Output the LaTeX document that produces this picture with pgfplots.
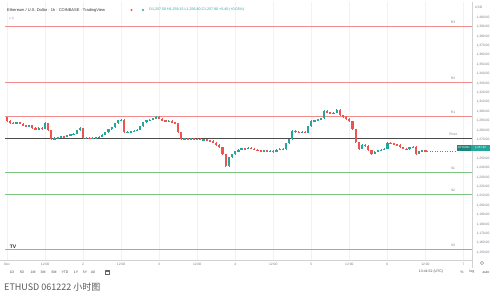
\documentclass[border=0pt]{standalone}
\usepackage{fontspec}
\setmainfont{Liberation Sans}
\newfontfamily\cjk{Noto Sans CJK SC}
\usepackage{pgfplots}
\usepackage{pgfplotstable}
\pgfplotsset{compat=1.18}
\definecolor{tvgreen}{HTML}{26A69A}
\definecolor{tvred}{HTML}{EF5350}
\definecolor{rline}{HTML}{F28B8B}
\definecolor{sline}{HTML}{7CC47F}
\definecolor{gridc}{HTML}{F0F2F6}
\definecolor{txt}{HTML}{787B86}

\pgfplotstableread{
x o h l c
0 1293.6 1294.2 1288.8 1289.4
1 1289.4 1290.3 1287.0 1287.8
2 1287.8 1288.6 1286.4 1287.2
3 1287.2 1289.0 1286.5 1288.3
4 1288.3 1288.9 1286.0 1286.7
5 1286.7 1287.4 1284.3 1285.1
6 1285.1 1285.9 1283.2 1284.1
7 1284.1 1285.8 1283.4 1285.1
8 1285.1 1285.6 1281.7 1282.5
9 1282.5 1283.3 1280.1 1280.9
10 1280.9 1283.4 1280.3 1282.5
11 1282.5 1283.1 1280.6 1281.4
12 1281.4 1288.3 1280.8 1287.2
13 1287.2 1287.9 1279.0 1279.8
14 1279.8 1280.5 1269.1 1270.2
15 1270.2 1272.6 1269.6 1271.8
16 1271.8 1273.1 1271.0 1272.4
17 1272.4 1274.1 1271.7 1273.4
18 1273.4 1274.0 1272.1 1272.9
19 1272.9 1275.2 1272.2 1274.5
20 1274.5 1276.3 1273.8 1275.5
21 1275.5 1276.9 1274.9 1276.1
22 1276.1 1280.6 1275.5 1279.8
23 1279.8 1282.8 1279.1 1281.9
24 1281.9 1282.6 1270.6 1271.3
25 1271.3 1272.6 1270.5 1271.8
26 1271.8 1272.5 1270.6 1271.3
27 1271.3 1272.4 1270.7 1271.8
28 1271.8 1273.0 1271.1 1272.4
29 1272.4 1273.6 1271.8 1272.9
30 1272.9 1275.7 1272.3 1275.0
31 1275.0 1278.4 1274.4 1277.7
32 1277.7 1281.6 1277.0 1280.9
33 1280.9 1283.8 1280.2 1283.0
34 1283.0 1288.0 1282.4 1287.2
35 1287.2 1291.2 1286.6 1290.4
36 1290.4 1291.9 1289.6 1291.0
37 1291.0 1291.6 1276.8 1277.7
38 1277.7 1279.0 1277.0 1278.2
39 1278.2 1279.5 1277.6 1278.7
40 1278.7 1280.0 1278.0 1279.3
41 1279.3 1281.0 1278.7 1280.3
42 1280.3 1284.8 1279.7 1284.1
43 1284.1 1289.1 1283.4 1288.3
44 1288.3 1291.2 1287.7 1290.4
45 1290.4 1291.8 1289.8 1291.0
46 1291.0 1293.4 1290.3 1292.6
47 1292.6 1295.2 1292.0 1294.2
48 1294.2 1294.8 1291.3 1292.0
49 1292.0 1292.6 1289.7 1290.4
50 1290.4 1291.1 1288.7 1289.4
51 1289.4 1290.6 1288.8 1289.9
52 1289.9 1290.5 1287.6 1288.3
53 1288.3 1289.0 1286.5 1287.2
54 1287.2 1287.8 1276.9 1277.7
55 1277.7 1278.4 1269.3 1270.2
56 1270.2 1272.0 1269.5 1271.3
57 1271.3 1271.9 1270.0 1270.8
58 1270.8 1272.0 1270.1 1271.3
59 1271.3 1271.9 1269.5 1270.2
60 1270.2 1271.5 1269.6 1270.8
61 1270.8 1271.4 1269.0 1269.7
62 1269.7 1270.9 1269.1 1270.2
63 1270.2 1270.8 1268.4 1269.2
64 1269.2 1269.9 1267.9 1268.6
65 1268.6 1269.2 1265.8 1266.5
66 1266.5 1267.1 1263.6 1264.4
67 1264.4 1265.0 1260.9 1261.7
68 1261.7 1262.3 1253.4 1254.3
69 1254.3 1254.9 1240.4 1242.0
70 1242.0 1251.9 1240.8 1251.1
71 1251.1 1255.0 1250.4 1254.3
72 1254.3 1258.2 1253.6 1257.5
73 1257.5 1259.8 1256.8 1259.1
74 1259.1 1261.4 1258.5 1260.7
75 1260.7 1261.4 1259.4 1260.1
76 1260.1 1261.9 1259.5 1261.2
77 1261.2 1261.8 1259.4 1260.1
78 1260.1 1260.8 1258.4 1259.1
79 1259.1 1259.8 1257.8 1258.5
80 1258.5 1259.2 1257.3 1258.0
81 1258.0 1259.2 1257.3 1258.5
82 1258.5 1259.1 1256.7 1257.5
83 1257.5 1258.7 1256.8 1258.0
84 1258.0 1258.6 1256.1 1256.9
85 1256.9 1259.8 1256.3 1259.1
86 1259.1 1260.9 1258.4 1260.1
87 1260.1 1260.8 1258.9 1259.6
88 1259.6 1266.8 1259.0 1266.0
89 1266.0 1271.0 1265.4 1270.2
90 1270.2 1280.1 1269.6 1279.3
91 1279.3 1280.0 1277.4 1278.2
92 1278.2 1278.9 1276.9 1277.7
93 1277.7 1278.9 1277.0 1278.2
94 1278.2 1278.8 1276.4 1277.1
95 1277.1 1284.8 1276.5 1284.1
96 1284.1 1290.6 1283.4 1289.9
97 1289.9 1291.2 1289.2 1290.4
98 1290.4 1292.3 1289.7 1291.5
99 1291.5 1293.3 1290.8 1292.6
100 1292.6 1301.3 1292.0 1300.5
101 1300.5 1301.1 1298.1 1298.9
102 1298.9 1299.6 1297.1 1297.9
103 1297.9 1299.2 1297.2 1298.4
104 1298.4 1302.7 1297.8 1301.6
105 1301.6 1302.2 1295.0 1295.8
106 1295.8 1296.5 1293.4 1294.2
107 1294.2 1294.8 1291.2 1292.0
108 1292.0 1292.7 1288.6 1289.4
109 1289.4 1290.0 1280.0 1280.9
110 1280.9 1281.5 1266.1 1267.0
111 1267.0 1267.6 1259.2 1260.1
112 1260.1 1265.1 1259.5 1264.4
113 1264.4 1265.0 1262.5 1263.3
114 1263.3 1263.9 1257.6 1258.5
115 1258.5 1259.1 1253.9 1254.8
116 1254.8 1257.6 1254.1 1256.9
117 1256.9 1259.2 1256.2 1258.5
118 1258.5 1259.8 1257.9 1259.1
119 1259.1 1260.9 1258.4 1260.1
120 1260.1 1267.3 1259.5 1266.5
121 1266.5 1267.2 1265.2 1266.0
122 1266.0 1266.6 1264.2 1264.9
123 1264.9 1265.6 1263.6 1264.4
124 1264.4 1265.0 1260.9 1261.7
125 1261.7 1262.3 1259.4 1260.1
126 1260.1 1260.8 1258.8 1259.6
127 1259.6 1262.4 1258.9 1261.7
128 1261.7 1263.0 1261.0 1262.2
129 1262.2 1262.8 1253.2 1254.8
130 1254.8 1258.2 1254.1 1257.5
131 1257.5 1259.2 1256.8 1258.5
132 1258.5 1259.1 1257.3 1257.9
}\candles

\begin{document}
\begin{tikzpicture}[x=1pt,y=1pt]
\path[use as bounding box] (0,0) rectangle (500,296);
\fill[white] (0,0) rectangle (500,296);
\begin{axis}[at={(0,38)}, anchor=south west,
  width=472pt, height=258pt, scale only axis,
  xmin=-2.21, xmax=146.69, ymin=1141.5, ymax=1416,
  axis x line*=bottom, axis y line*=right,
  axis line style={draw=gray!35, line width=0.5pt},
  major tick length=0pt,
  xtick={0,12,...,144},
  xticklabels={Dec,12:00,2,12:00,3,12:00,4,12:00,5,12:00,6,12:00,7},
  xticklabel style={font=\fontsize{3.3}{4}\selectfont, text=txt, yshift=0.5pt},
  ytick={1150,1160,...,1250,1270,1280,...,1400},
  yticklabel pos=right,
  yticklabel style={font=\fontsize{3.3}{4}\selectfont, text=txt, xshift=1pt,
     /pgf/number format/.cd, fixed, fixed zerofill, precision=2, 1000 sep={,}, assume math mode=true},
  xmajorgrids=true, ymajorgrids=false, grid style={draw=gridc, line width=0.4pt},
  clip=true,
]
% pivot levels
\addplot[rline, line width=0.75pt] coordinates {(-0.63,1390.4) (146.69,1390.4)};
\addplot[rline, line width=0.75pt] coordinates {(-0.63,1330.9) (146.69,1330.9)};
\addplot[rline, line width=0.75pt] coordinates {(-0.63,1294.7) (146.69,1294.7)};
\addplot[black!70, line width=0.75pt] coordinates {(-0.63,1271.3) (146.69,1271.3)};
\addplot[sline, line width=0.75pt] coordinates {(-0.63,1235.1) (146.69,1235.1)};
\addplot[sline, line width=0.75pt] coordinates {(-0.63,1211.7) (146.69,1211.7)};
\addplot[sline, line width=0.75pt] coordinates {(-0.63,1153.2) (146.69,1153.2)};
% last price dotted
\addplot[tvgreen, dotted, line width=0.5pt] coordinates {(132.6,1257.9) (142,1257.9)};
% wicks
\addplot[draw=none, mark=none, restrict expr to domain={\thisrow{c}-\thisrow{o}}{0:1000},
  error bars/.cd, y dir=both, y explicit, error mark=none,
  error bar style={draw=tvgreen, line width=0.5pt}]
  table[x=x, y expr={(\thisrow{h}+\thisrow{l})/2}, y error expr={(\thisrow{h}-\thisrow{l})/2}] {\candles};
\addplot[draw=none, mark=none, restrict expr to domain={\thisrow{c}-\thisrow{o}}{-1000:-0.001},
  error bars/.cd, y dir=both, y explicit, error mark=none,
  error bar style={draw=tvred, line width=0.5pt}]
  table[x=x, y expr={(\thisrow{h}+\thisrow{l})/2}, y error expr={(\thisrow{h}-\thisrow{l})/2}] {\candles};
% bodies
\addplot[draw=none, mark=none, restrict expr to domain={\thisrow{c}-\thisrow{o}}{0:1000},
  error bars/.cd, y dir=both, y explicit, error mark=none,
  error bar style={draw=tvgreen, line width=2.2pt}]
  table[x=x, y expr={(\thisrow{o}+\thisrow{c})/2}, y error expr={max(abs(\thisrow{c}-\thisrow{o})/2,0.3)}] {\candles};
\addplot[draw=none, mark=none, restrict expr to domain={\thisrow{c}-\thisrow{o}}{-1000:-0.001},
  error bars/.cd, y dir=both, y explicit, error mark=none,
  error bar style={draw=tvred, line width=2.2pt}]
  table[x=x, y expr={(\thisrow{o}+\thisrow{c})/2}, y error expr={max(abs(\thisrow{c}-\thisrow{o})/2,0.3)}] {\candles};
% level labels
\foreach \lv/\nm in {1390.4/R3,1330.9/R2,1294.7/R1,1271.3/Pivot,1235.1/S1,1211.7/S2,1153.2/S3}{
  \edef\tmp{\noexpand\node[font=\noexpand\fontsize{3.3}{4}\noexpand\selectfont, text=txt, anchor=south, inner sep=0pt] at (axis cs:140.7,\lv) [yshift=2.5pt] {\nm};}\tmp
}
\end{axis}
% header
\node[anchor=west, inner sep=0pt, font=\fontsize{4}{5}\selectfont, text=black!80] at (7,286) {Ethereum / U.S. Dollar · 1h · COINBASE · TradingView};
\fill[tvred] (131.5,286) circle (1.2);
\fill[tvgreen] (143,286) circle (1.2);
\node[anchor=west, inner sep=0pt, font=\fontsize{3.6}{4}\selectfont, text=tvgreen] at (149,286) {O1,257.50 H1,259.15 L1,256.80 C1,257.90 +0.40 (+0.03\%)};
\node[anchor=west, inner sep=0pt, font=\fontsize{3.3}{4}\selectfont, text=txt] at (9,278) {= 1};
% USD label
\node[anchor=west, inner sep=0pt, font=\fontsize{3.3}{4}\selectfont, text=txt] at (475,289) {USD};
% price tag
\fill[tvgreen!80!black] (457,145) rectangle (471,151);
\fill[tvgreen] (471,145) rectangle (490,151);
\node[inner sep=0pt, font=\fontsize{2.8}{3}\selectfont, text=white] at (464,148) {ETHUSD};
\node[inner sep=0pt, font=\fontsize{2.8}{3}\selectfont, text=white] at (480.5,148) {1,257.90};
% TV logo
\node[inner sep=0pt, font=\bfseries\fontsize{5}{5}\selectfont, text=black!85] at (13,49) {TV};
% bottom divider and gear
\draw[gray!35, line width=0.5pt] (472,38) -- (472,28);
\draw[txt, line width=0.4pt] (482,33) circle (1.6);
% toolbar
\foreach \xx/\tt in {12/1D,22/5D,33/1M,43/3M,54/6M,65/YTD,76/1Y,85/5Y,93/All}{
  \node[inner sep=0pt, font=\fontsize{3.5}{4}\selectfont, text=black!70] at (\xx,24) {\tt};
}
\draw[black!60, line width=0.3pt] (105.5,22.2) rectangle (109,25.5);
\draw[black!60, line width=0.3pt] (105.5,24.6) -- (109,24.6);
\node[inner sep=0pt, font=\fontsize{3.5}{4}\selectfont, text=black!70] at (431,24) {13:41:52 (UTC)};
\node[inner sep=0pt, font=\fontsize{3.5}{4}\selectfont, text=black!70] at (462,24) {\%};
\node[inner sep=0pt, font=\fontsize{3.5}{4}\selectfont, text=black!70] at (472,24) {log};
\node[inner sep=0pt, font=\fontsize{3.5}{4}\selectfont, text=black!70] at (486,24) {auto};
% caption
\node[anchor=west, inner sep=0pt, font=\cjk\fontsize{9}{10}\selectfont, text=black!65] at (4,9) {ETHUSD 061222 小时图};
\end{tikzpicture}
\end{document}
